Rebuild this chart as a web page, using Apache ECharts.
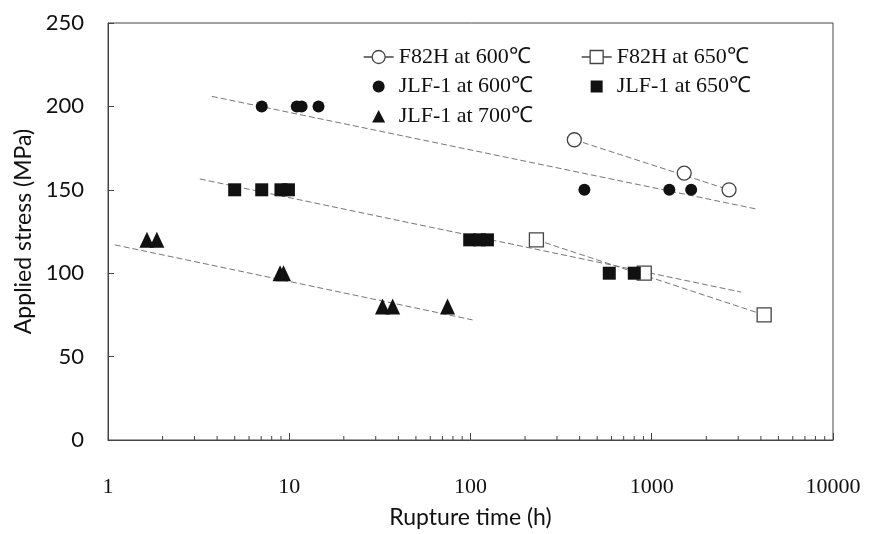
<!DOCTYPE html>
<html>
<head>
<meta charset="utf-8">
<script src="https://cdn.jsdelivr.net/npm/echarts@6/dist/echarts.min.js"></script>
<style>
html,body{margin:0;padding:0;background:#fff;}
#chart{width:871px;height:534px;}
</style>
</head>
<body>
<div id="chart"></div>
<script>
// ---- data (rupture time h, applied stress MPa) ----
const f82h600 = [[374,180],[1510,160],[2670,150]];
const f82h650 = [[231,120],[909,100],[4170,75]];
const jlf600 = [[7.05,200],[11,200],[11.7,200],[14.5,200],[425,150],[1250,150],[1650,150]];
const jlf650 = [[5.0,150],[7.05,150],[9.0,150],[9.9,150],[99,120],[112,120],[124,120],[583,100],[801,100]];
const jlf700 = [[1.64,120],[1.86,120],[8.9,100],[9.3,100],[32.7,80],[37.2,80],[74.7,80]];

// trend lines
const fitJLF600 = [[3.74,206],[3770,138.5]];
const fitJLF650 = [[3.21,156.5],[3110,88.7]];
const fitJLF700 = [[1.09,117],[102.6,72]];
const fitF82H600 = [[374,180],[2670,150]];
const fitF82H650 = [[231,120],[4170,75]];

// axis
const xTickLabels = [1,10,100,1000,10000];
const yTicks = [0,50,100,150,200,250];
const minorTickValues = [2,3,4,5,6,7,8,9,20,30,40,50,60,70,80,90,200,300,400,500,600,700,800,900,2000,3000,4000,5000,6000,7000,8000,9000];

const names = {
  a: 'F82H at 600℃', b: 'F82H at 650℃', c: 'JLF-1 at 600℃', d: 'JLF-1 at 650℃', e: 'JLF-1 at 700℃'
};

const ink = '#111';
const lineGray = '#777';
const openStyle = {color:'#fff', borderColor:'#444', borderWidth:1.3, opacity:1};
const solidStyle = {color:ink, opacity:1};

function fitLine(data){
  return {type:'line', data:data, symbol:'none', silent:true, z:1,
    lineStyle:{color:lineGray, width:1, type:[6,3]}};
}

const chart = echarts.init(document.getElementById('chart'));
const legendText = {color:ink, fontFamily:'Liberation Serif', fontSize:22};
const circPath = 'path://M0,7L8,7M22,7L30,7M21.5,7A6.5,6.5,0,1,1,8.5,7A6.5,6.5,0,1,1,21.5,7Z';
const sqPath = 'path://M0,7L8,7M22,7L30,7M8.5,0.5L21.5,0.5L21.5,13.5L8.5,13.5Z';
const dotPath = 'path://M0,0M30,14M21,7A6,6,0,1,1,9,7A6,6,0,1,1,21,7Z';
const boxPath = 'path://M0,0M30,14M9,1L21,1L21,13L9,13Z';
const triPath = 'path://M0,0M30,14M15,1L21.5,13.5L8.5,13.5Z';
chart.setOption({
  animation:false,
  backgroundColor:'#fff',
  grid:{left:108,right:38,top:23,bottom:94,show:true,borderColor:'#444',borderWidth:1,backgroundColor:'transparent'},
  legend:[
    {left:358,top:41,orient:'vertical',itemGap:7.5,itemWidth:30,itemHeight:14,textStyle:legendText,
     data:[{name:names.a,icon:circPath,itemStyle:openStyle},{name:names.c,icon:dotPath,itemStyle:solidStyle},{name:names.e,icon:triPath,itemStyle:solidStyle}]},
    {left:576,top:41,orient:'vertical',itemGap:7.5,itemWidth:30,itemHeight:14,textStyle:legendText,
     data:[{name:names.b,icon:sqPath,itemStyle:openStyle},{name:names.d,icon:boxPath,itemStyle:solidStyle}]}
  ],
  xAxis:{type:'log',logBase:10,min:1,max:10000,
    name:'Rupture time (h)',nameLocation:'middle',nameGap:66,
    nameTextStyle:{fontFamily:'Lato',fontSize:23,color:ink},
    axisLine:{lineStyle:{color:'#444'}},
    axisTick:{inside:true,length:7,lineStyle:{color:'#444'}},
    axisLabel:{margin:36,fontFamily:'Liberation Serif',fontSize:22,color:ink,
      formatter:function(v){return xTickLabels.indexOf(Math.round(v))>=0?String(Math.round(v)):'';}},
    splitLine:{show:false}},
  yAxis:{type:'value',min:0,max:250,interval:50,
    name:'Applied stress (MPa)',nameLocation:'middle',nameGap:72,
    nameTextStyle:{fontFamily:'Lato',fontSize:23,color:ink},
    axisLine:{show:true,lineStyle:{color:'#444'}},
    axisTick:{show:true,inside:true,length:6,lineStyle:{color:'#444'}},
    axisLabel:{margin:24,fontFamily:'Lato',fontSize:22,color:ink,
      formatter:function(v){return yTicks.indexOf(v)>=0?String(v):'';}},
    splitLine:{show:false}},
  series:[
    fitLine(fitJLF600), fitLine(fitJLF650), fitLine(fitJLF700), fitLine(fitF82H600), fitLine(fitF82H650),
    {type:'scatter',silent:true,z:1,data:minorTickValues.map(function(v){return [v,0];}),
     symbol:'rect',symbolSize:[1,4],symbolOffset:[0,-2],itemStyle:{color:'#444',opacity:1}},
    {name:names.a,type:'scatter',data:f82h600,symbol:'circle',symbolSize:14,itemStyle:openStyle,z:3},
    {name:names.b,type:'scatter',data:f82h650,symbol:'rect',symbolSize:14,itemStyle:openStyle,z:3},
    {name:names.c,type:'scatter',data:jlf600,symbol:'circle',symbolSize:12,itemStyle:solidStyle,z:4},
    {name:names.d,type:'scatter',data:jlf650,symbol:'rect',symbolSize:13,itemStyle:solidStyle,z:4},
    {name:names.e,type:'scatter',data:jlf700,symbol:'triangle',symbolSize:[15,16],itemStyle:solidStyle,z:4}
  ]
});
</script>
</body>
</html>
